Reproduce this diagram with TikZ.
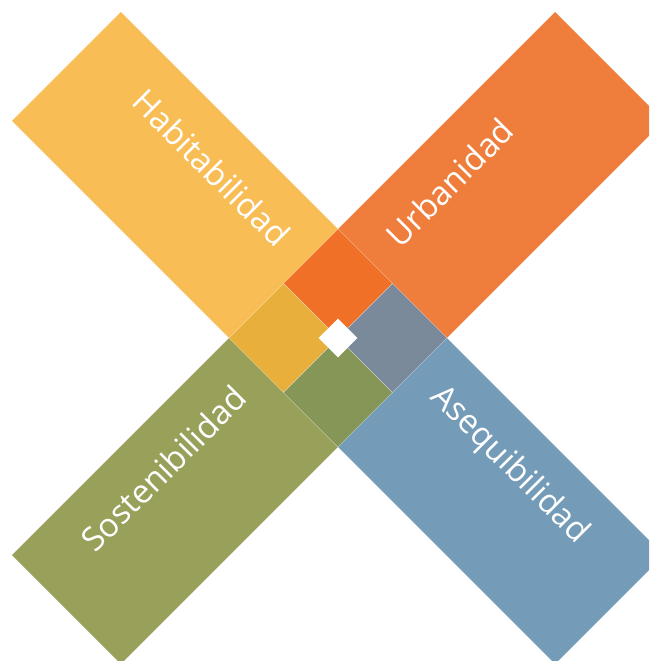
\documentclass[tikz,border=0pt]{standalone}
\usepackage{fontspec}
\setmainfont{Open Sans}
\definecolor{habY}{HTML}{F9BD55}
\definecolor{urbO}{HTML}{EF7E3D}
\definecolor{sosG}{HTML}{98A05A}
\definecolor{aseB}{HTML}{749BB7}
\definecolor{coreO}{HTML}{EF7026}
\definecolor{coreY}{HTML}{E8B03A}
\definecolor{coreG}{HTML}{869656}
\definecolor{coreB}{HTML}{7B8A9B}
\begin{document}
\begin{tikzpicture}[x=1pt,y=-1pt,
  bar/.style={rectangle, draw=none, minimum width=307pt, minimum height=154pt,
    inner sep=0pt, outer sep=0pt},
  core/.style={rectangle, minimum size=77pt, inner sep=0pt, outer sep=0pt,
    rotate=45, draw=white, draw opacity=0.3, line width=0.5pt},
  caption/.style={text=white, font=\fontsize{33}{40}\selectfont, inner sep=0pt}]
\useasboundingbox (0,0) rectangle (649,661);
\clip (0,0) rectangle (649,661);

% four arms of the cross
\node[bar, fill=habY, rotate=-45] (hab) at (175,175) {};
\node[bar, fill=urbO, rotate=45]  (urb) at (501,175) {};
\node[bar, fill=sosG, rotate=45]  (sos) at (175,501) {};
\node[bar, fill=aseB, rotate=-45] (ase) at (501,501) {};

% central diamond split into four squares
\node[core, fill=coreO] (ctop)   at (338,283.5) {};
\node[core, fill=coreY] (cleft)  at (283.5,338) {};
\node[core, fill=coreG] (cbot)   at (338,392.5) {};
\node[core, fill=coreB] (cright) at (392.5,338) {};
\node[rectangle, fill=white, minimum size=27.5pt, inner sep=0pt, rotate=45] (hub) at (338,338) {};

% arm captions, anchored near the inner end of each arm
\node[caption, rotate=-45, anchor=east] (habt) at (284.2,240.4) {Habitabilidad};
\node[caption, rotate=45,  anchor=west] (urbt) at (391.8,240.4) {Urbanidad};
\node[caption, rotate=45,  anchor=east] (sost) at (240.4,391.8) {Sostenibilidad};
\node[caption, rotate=-45, anchor=west] (aset) at (435.6,391.8) {Asequibilidad};
\end{tikzpicture}
\end{document}
